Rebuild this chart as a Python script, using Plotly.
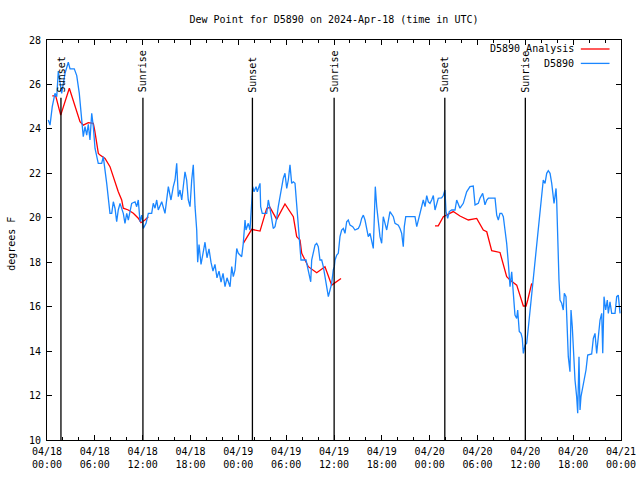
import pandas as pd
import plotly.graph_objects as go

# ---------------- data ----------------
base_time = "2024-04-18 00:00"

obs_hours = [0.16, 0.38, 0.66, 1.0, 1.22, 1.42, 1.84, 2.26, 2.67, 2.89, 3.42, 3.73, 4.05, 4.35, 4.55, 4.77,
             4.98, 5.18, 5.39, 5.61, 5.81, 6.02, 6.23, 6.43, 6.86, 7.06, 7.49, 7.69, 7.9, 8.12, 8.32, 8.53,
             8.74, 8.94, 9.16, 9.57, 9.78, 10.0, 10.2, 10.62, 11.04, 11.25, 11.45, 11.67, 11.88, 12.08, 12.42,
             12.71, 13.13, 13.33, 13.55, 13.76, 13.96, 14.39, 14.8, 15.22, 15.55, 15.84, 16.06, 16.27, 16.47,
             16.68, 16.9, 17.31, 17.52, 17.72, 17.94, 18.15, 18.35, 18.57, 18.78, 18.9, 19.07, 19.32, 19.57,
             19.82, 20.07, 20.32, 20.57, 20.82, 21.07, 21.32, 21.58, 21.83, 22.08, 22.33, 22.58, 22.83, 22.96,
             23.17, 23.37, 23.58, 23.8, 24.0, 24.42, 24.62, 24.84, 24.96, 25.25, 25.46, 25.68, 25.8, 25.97,
             26.22, 26.38, 26.72, 26.8, 27.0, 27.56, 27.76, 27.97, 28.18, 28.38, 28.6, 28.81, 29.01, 29.23,
             29.44, 29.64, 29.85, 30.07, 30.27, 30.48, 30.69, 30.9, 31.11, 31.32, 31.52, 31.74, 31.86, 32.49,
             32.65, 32.87, 33.08, 33.2, 33.4, 33.62, 33.83, 34.03, 34.24, 34.46, 34.66, 34.87, 35.09, 35.29,
             35.5, 35.71, 35.91, 36.04, 36.13, 36.34, 36.54, 36.75, 36.96, 37.17, 37.38, 37.59, 37.79, 38.01,
             38.35, 38.63, 39.05, 39.26, 39.47, 39.68, 39.89, 40.1, 40.3, 40.52, 40.73, 40.93, 41.06, 41.18,
             41.36, 41.56, 41.77, 41.98, 42.18, 42.4, 42.61, 43.02, 43.44, 43.65, 44.07, 44.28, 44.49, 44.69,
             44.82, 45.0, 46.16, 46.38, 46.58, 46.79, 47.2, 47.42, 47.63, 47.83, 48.04, 48.25, 48.46, 48.67,
             48.88, 49.08, 49.5, 49.71, 49.92, 50.05, 50.26, 50.46, 50.76, 51.18, 51.39, 51.59, 51.8, 52.22,
             52.64, 53.06, 53.47, 53.69, 54.1, 54.31, 54.65, 54.82, 54.94, 55.16, 55.36, 56.2, 56.41, 56.61,
             56.82, 57.04, 57.24, 57.45, 57.66, 57.87, 58.08, 58.29, 58.49, 58.7, 58.92, 59.04, 59.24, 59.46,
             59.62, 59.75, 59.96, 60.17, 60.37, 60.59, 60.8, 61.0, 61.21, 61.43, 61.63, 61.84, 62.05, 62.25,
             62.47, 62.68, 62.88, 63.1, 63.31, 63.43, 63.6, 63.72, 63.85, 63.93, 64.06, 64.22, 64.35, 64.56,
             64.76, 64.89, 65.1, 65.27, 65.39, 65.6, 65.73, 65.89, 66.02, 66.23, 66.44, 66.57, 66.73, 66.86,
             66.98, 67.2, 67.4, 67.61, 67.82, 68.32, 68.53, 68.74, 68.95, 69.15, 69.37, 69.58, 69.71, 69.87,
             70.08, 70.28, 70.41, 70.62, 70.83, 71.25, 71.46, 71.66, 71.88]
obs_values = [24.4, 24.17, 25.0, 25.6, 25.45, 26.6, 25.6, 26.5, 27.0, 26.7, 26.7, 26.4, 25.6, 24.4, 23.65, 24.1,
              23.72, 24.2, 23.5, 24.7, 24.1, 23.13, 22.82, 22.45, 22.45, 22.75, 21.55, 20.95, 20.2, 20.2, 20.72,
              20.43, 19.83, 20.35, 20.65, 20.2, 19.75, 20.2, 19.9, 20.65, 20.72, 20.5, 20.8, 19.82, 20.12, 19.52,
              19.75, 20.2, 20.2, 20.65, 20.43, 20.8, 20.35, 20.72, 20.2, 21.4, 20.8, 21.4, 21.7, 22.45, 20.95,
              21.25, 20.8, 22.07, 21.7, 20.8, 20.5, 21.7, 22.38, 20.5, 19.45, 18.0, 18.8, 17.9, 18.5, 18.9, 18.2,
              18.6, 18.0, 17.6, 17.9, 17.3, 17.6, 17.1, 17.5, 16.9, 17.3, 17.0, 16.9, 17.8, 17.35, 17.65, 18.62,
              18.4, 18.25, 18.85, 19.9, 19.45, 19.75, 19.45, 20.65, 21.4, 21.17, 21.4, 21.17, 21.55, 20.5, 20.2,
              20.2, 20.8, 20.42, 19.9, 19.52, 19.6, 19.97, 20.5, 20.95, 21.4, 21.78, 22.0, 21.32, 21.7, 22.38,
              21.55, 21.62, 21.55, 20.65, 19.45, 18.7, 18.1, 18.1, 17.8, 17.35, 17.12, 18.1, 18.4, 18.77, 18.85,
              18.7, 18.1, 18.1, 17.8, 17.35, 16.9, 16.45, 16.75, 17.05, 17.65, 17.8, 18.1, 18.32, 18.4, 19.15,
              19.45, 19.52, 19.3, 19.82, 19.9, 19.67, 19.6, 19.45, 19.52, 19.67, 19.97, 20.12, 19.9, 19.45, 19.15,
              19.3, 18.85, 18.62, 20.05, 21.4, 20.5, 19.75, 19.15, 18.85, 20.05, 19.75, 19.45, 20.28, 20.05,
              19.75, 19.67, 19.52, 19.3, 18.7, 19.6, 20.05, 20.05, 19.6, 19.9, 20.28, 20.8, 20.5, 21.0, 20.72,
              20.65, 20.8, 21.0, 20.35, 20.65, 20.88, 20.9, 21.0, 21.25, 20.28, 19.97, 20.28, 20.35, 20.35, 20.8,
              20.65, 20.43, 20.65, 21.17, 21.4, 21.43, 20.58, 20.65, 20.88, 21.1, 20.8, 20.58, 20.8, 20.88, 20.88,
              20.12, 19.9, 20.2, 20.2, 20.05, 19.45, 18.85, 17.95, 16.9, 17.57, 16.45, 15.62, 15.47, 15.85, 14.88,
              14.8, 14.57, 13.9, 14.27, 14.35, 15.03, 15.85, 16.6, 17.27, 18.1, 18.7, 19.6, 20.35, 21.1, 21.7,
              21.55, 22.0, 22.12, 22.0, 21.55, 21.1, 20.65, 20.95, 21.32, 20.8, 18.85, 17.2, 16.3, 16.15, 15.85,
              16.6, 16.45, 14.8, 13.75, 13.07, 15.85, 15.1, 14.2, 12.7, 11.95, 11.2, 13.75, 11.35, 11.95, 12.4,
              12.7, 13.15, 13.82, 13.87, 14.57, 14.8, 13.9, 14.57, 15.4, 15.7, 13.9, 16.45, 15.85, 16.3, 15.7,
              16.22, 15.7, 15.7, 16.45, 16.52, 15.7]

# analysis series: three separate runs
ana_hours_1 = [0.66, 1.09, 1.72, 2.8, 4.14, 4.55, 5.18, 5.81, 6.0, 6.44, 6.65, 7.28, 7.9, 8.53, 8.94, 9.37,
               9.57, 10.2, 10.83, 11.45, 11.79, 12.29, 12.71]
ana_values_1 = [25.49, 25.49, 24.62, 25.83, 24.32, 24.17, 24.28, 24.25, 23.9, 22.9, 22.82, 22.67, 22.3, 21.55,
                21.17, 20.8, 20.43, 20.35, 20.2, 19.98, 19.78, 19.9, 20.05]
ana_hours_2 = [24.62, 25.68, 26.72, 27.56, 27.97, 28.81, 29.85, 30.9, 31.32, 31.74, 31.95, 32.78, 33.83, 34.87,
               35.71, 36.34, 36.88]
ana_values_2 = [18.85, 19.48, 19.4, 20.42, 20.47, 19.93, 20.62, 20.05, 19.15, 19.0, 18.4, 17.8, 17.53, 17.8,
                16.97, 17.12, 17.27]
ana_hours_3 = [48.67, 49.08, 49.71, 50.96, 51.8, 52.85, 53.9, 54.73, 55.16, 55.78, 56.82, 57.66, 58.08, 58.92,
               59.75, 60.09, 60.3, 60.8]
ana_values_3 = [19.64, 19.64, 20.05, 20.28, 20.08, 19.9, 19.97, 19.45, 19.37, 18.52, 18.44, 17.35, 17.2, 16.97,
                16.03, 16.03, 16.3, 17.05]

event_times = ["2024-04-18 01:45", "2024-04-18 12:02", "2024-04-19 01:46",
               "2024-04-19 12:01", "2024-04-20 01:54", "2024-04-20 12:00"]
event_labels = ["Sunset", "Sunrise", "Sunset", "Sunrise", "Sunset", "Sunrise"]
event_line_top = 25.4
event_label_base = 25.55

title_text = "Dew Point for D5890 on 2024-Apr-18 (time in UTC)"
y_title = "degrees F"
name_analysis = "D5890 Analysis"
name_obs = "D5890"

# ---------------- build ----------------
t0 = pd.Timestamp(base_time)


def to_time(hours):
    return [t0 + pd.Timedelta(hours=h) for h in hours]


ana_x, ana_y = [], []
for hrs, vals in [(ana_hours_1, ana_values_1), (ana_hours_2, ana_values_2), (ana_hours_3, ana_values_3)]:
    ana_x += to_time(hrs) + [None]
    ana_y += list(vals) + [None]

FONT = "DejaVu Sans Mono"
RED = "#ff0000"
BLUE = "#1a86ff"

fig = go.Figure()
fig.add_trace(go.Scatter(x=ana_x, y=ana_y, mode="lines", name=name_analysis,
                         line=dict(color=RED, width=1.3), connectgaps=False, showlegend=False))
fig.add_trace(go.Scatter(x=to_time(obs_hours), y=obs_values, mode="lines", name=name_obs,
                         line=dict(color=BLUE, width=1.3), showlegend=False))

for t, lab in zip(event_times, event_labels):
    fig.add_shape(type="line", xref="x", yref="y", x0=t, x1=t, y0=10, y1=event_line_top,
                  line=dict(color="black", width=1.3), layer="above")
    fig.add_annotation(x=t, y=event_label_base, xref="x", yref="y", text=lab, textangle=-90,
                       showarrow=False, xanchor="center", yanchor="bottom",
                       font=dict(family=FONT, size=10, color="black"))

# legend drawn gnuplot-style (text then sample)
for i, (nm, col) in enumerate([(name_analysis, RED), (name_obs, BLUE)]):
    ypos = 0.9775 - i * 0.036
    fig.add_annotation(x=0.921, y=ypos, xref="paper", yref="paper", text=nm, showarrow=False,
                       xanchor="right", yanchor="middle", font=dict(family=FONT, size=10, color="black"))
    fig.add_shape(type="line", xref="paper", yref="paper", x0=0.93, x1=0.98, y0=ypos, y1=ypos,
                  line=dict(color=col, width=1.3))

# y-axis title placed like gnuplot's ylabel
fig.add_annotation(x=-0.063, y=0.49, xref="paper", yref="paper", text=y_title, textangle=-90,
                   showarrow=False, xanchor="center", yanchor="middle",
                   font=dict(family=FONT, size=10, color="black"))

fig.update_layout(
    width=640, height=480,
    margin=dict(l=47, r=19, t=40, b=40, autoexpand=False),
    paper_bgcolor="white", plot_bgcolor="white",
    font=dict(family=FONT, size=10, color="black"),
    title=dict(text=title_text, x=0.5, xref="paper", xanchor="center", y=1, yref="container",
               yanchor="top", pad=dict(t=16), font=dict(family=FONT, size=10, color="black")),
    showlegend=False,
)
fig.update_xaxes(
    type="date",
    range=[t0, t0 + pd.Timedelta(hours=72)],
    tick0=t0, dtick=6 * 3600 * 1000, tickformat="%m/%d<br>%H:%M",
    ticks="inside", ticklen=5, tickcolor="black", ticklabelstandoff=2,
    minor=dict(dtick=2 * 3600 * 1000, ticks="inside", ticklen=3, tickcolor="black"),
    showline=True, linecolor="black", linewidth=1, mirror="ticks",
    showgrid=False, zeroline=False, automargin=False,
    tickfont=dict(family=FONT, size=10, color="black"),
)
fig.update_yaxes(
    range=[10, 28], dtick=2, tick0=10,
    ticks="inside", ticklen=5, tickcolor="black", ticklabelstandoff=3,
    showline=True, linecolor="black", linewidth=1, mirror="ticks",
    showgrid=False, zeroline=False, automargin=False,
    tickfont=dict(family=FONT, size=10, color="black"),
)

# remove the page's default 8px body margin so the 640x480 figure fills the window
fig.write_html("out.html", config={"displayModeBar": False},
               post_script="document.body.style.margin='0px';")
